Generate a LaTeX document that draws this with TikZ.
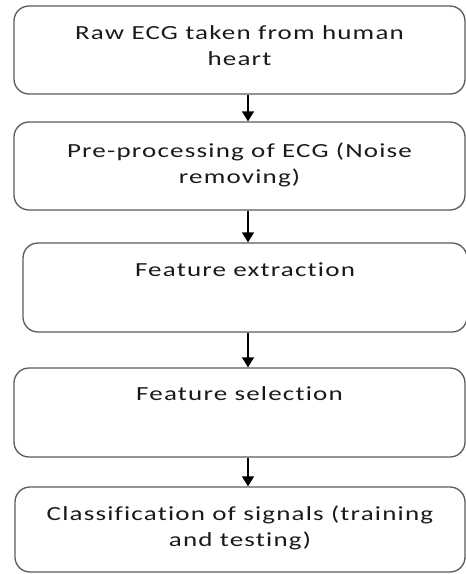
\documentclass[tikz,border=0pt]{standalone}
\usepackage{fontspec}
\setmainfont{Carlito}[FakeStretch=1.35,LetterSpace=6,Ligatures=NoCommon]
\usepackage{tikz}
\usetikzlibrary{arrows.meta}
\definecolor{boxgray}{HTML}{5A5A5A}
\definecolor{textgray}{HTML}{1A1A1A}

\begin{document}
\begin{tikzpicture}[x=1pt,y=1pt,
   stage/.style={
      draw=boxgray,
      line width=1.3pt,
      rounded corners=15pt,
      align=center,
      text=textgray,
      inner sep=0pt,
      font=\fontsize{20}{26}\selectfont
   },
   flow/.style={-{Triangle[length=10pt,width=12pt]}, line width=1.3pt, black}]
   \useasboundingbox (0,0) rectangle (466,-574);

   \node[stage, minimum width=451pt, minimum height=88pt] (raw) at (239.5,-50)
      {Raw ECG taken from human\\heart\\[-18pt]\mbox{}};
   \node[stage, minimum width=451pt, minimum height=88pt] (pre) at (239.5,-166)
      {Pre-processing of ECG (Noise\\removing)\\[-20pt]\mbox{}};
   \node[stage, minimum width=444pt, minimum height=89pt] (extract) at (245,-287.5)
      {Feature extraction\\[10pt]\mbox{}};
   \node[stage, minimum width=451pt, minimum height=89pt] (select) at (239.5,-412.5)
      {Feature selection\\[12pt]\mbox{}};
   \node[stage, minimum width=450pt, minimum height=85pt] (classify) at (240,-529.5)
      {Classification of signals (training\\and testing)\\[-19pt]\mbox{}};

   % arrows between the stages
   \coordinate (axis) at (248,0);
   \foreach \a/\b in {raw/pre, pre/extract, extract/select, select/classify}
      \draw[flow] (\a.south -| axis) -- (\b.north -| axis);

\end{tikzpicture}
\end{document}
